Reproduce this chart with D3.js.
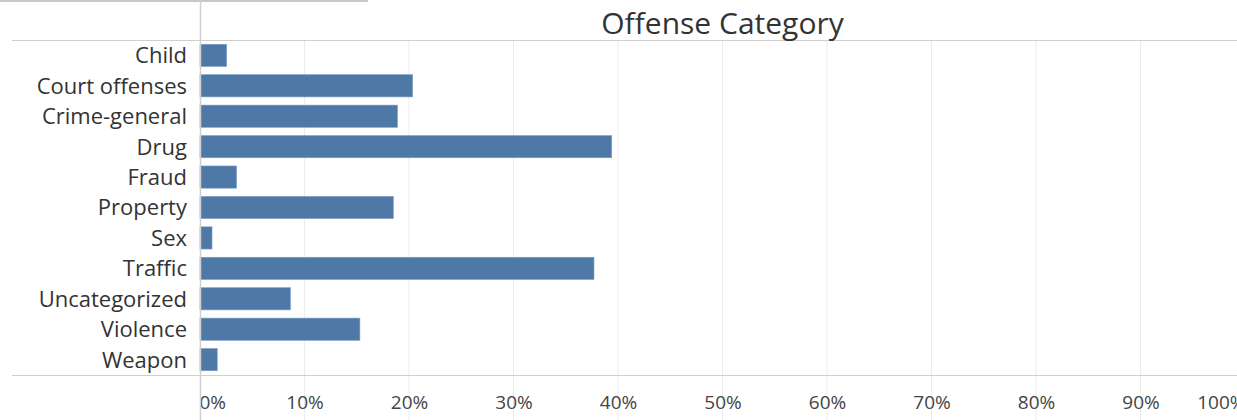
<!DOCTYPE html>
<html><head><meta charset="utf-8">
<script src="https://cdn.jsdelivr.net/npm/d3@7"></script>
<style>body{margin:0;background:#fff;}svg{display:block;}</style>
</head><body>
<script>
const categories = ["Child","Court offenses","Crime-general","Drug","Fraud","Property","Sex","Traffic","Uncategorized","Violence","Weapon"];
const values = [2.55, 20.35, 18.9, 39.4, 3.5, 18.5, 1.15, 37.7, 8.65, 15.3, 1.65];
const tickValues = [0,10,20,30,40,50,60,70,80,90,100];
const title = "Offense Category";

const W = 1237, H = 420;
const x0 = 200, x100 = 1245, yTop = 40, yBottom = 375;
const font = "'Open Sans', sans-serif";

const svg = d3.select("body").append("svg").attr("width", W).attr("height", H);
const x = d3.scaleLinear().domain([0,100]).range([x0, x100]);
const y = d3.scaleBand().domain(categories).range([yTop, yBottom]).paddingInner(0.27).paddingOuter(0.14);

svg.append("defs").append("clipPath").attr("id","pane")
  .append("rect").attr("x", x0 + 1).attr("y", 0).attr("width", W - x0).attr("height", H);

// gridlines
svg.append("g").selectAll("line").data(tickValues.slice(1)).join("line")
  .attr("x1", d => x(d)).attr("x2", d => x(d)).attr("y1", yTop).attr("y2", H)
  .attr("stroke", "#ececec").attr("stroke-width", 1);

// top-left line
svg.append("line").attr("x1",0).attr("x2",368).attr("y1",1).attr("y2",1).attr("stroke","#c8c8c8").attr("stroke-width",2);
// horizontal rules
svg.append("line").attr("x1",12).attr("x2",W).attr("y1",yTop+0.5).attr("y2",yTop+0.5).attr("stroke","#cfcfcf");
svg.append("line").attr("x1",12).attr("x2",W).attr("y1",yBottom+0.5).attr("y2",yBottom+0.5).attr("stroke","#cfcfcf");

// title
svg.append("text").attr("x", (x(0)+x(100))/2).attr("y", 34).attr("text-anchor","middle")
  .attr("font-family", font).attr("font-size", 30).attr("fill", "#333").text(title);

// bars
svg.append("g").selectAll("rect").data(categories).join("rect")
  .attr("x", x(0)).attr("y", d => y(d)).attr("height", y.bandwidth())
  .attr("width", (d,i) => x(values[i]) - x(0))
  .attr("fill", "#4e79a7").attr("stroke", "#7f9fc2").attr("stroke-width", 0.6);

// y axis labels
const yAxis = d3.axisLeft(y).tickSize(0).tickPadding(0);
const yg = svg.append("g").attr("transform", `translate(${x0-13},0)`).call(yAxis);
yg.select(".domain").remove();
yg.selectAll("text").attr("font-family", font).attr("font-size", 22).attr("fill", "#333").attr("dy", "0.36em");

// x axis labels
const xAxis = d3.axisBottom(x).tickValues(tickValues).tickSize(0).tickPadding(0).tickFormat(d => d + "%");
const xg = svg.append("g").attr("transform", `translate(0,${yBottom})`).attr("clip-path","url(#pane)").call(xAxis);
xg.select(".domain").remove();
xg.selectAll("text").attr("font-family", font).attr("font-size", 19).attr("fill", "#444")
  .attr("dy", null).attr("y", 34)
  .attr("text-anchor", d => d === 0 ? "start" : d === 100 ? "end" : "middle")
  .attr("dx", d => d === 0 ? -1 : 0);

// vertical axis line
svg.append("line").attr("x1",x0+0.5).attr("x2",x0+0.5).attr("y1",0).attr("y2",H).attr("stroke","#cfcfcf").attr("stroke-width",1.5);
</script>
</body></html>
